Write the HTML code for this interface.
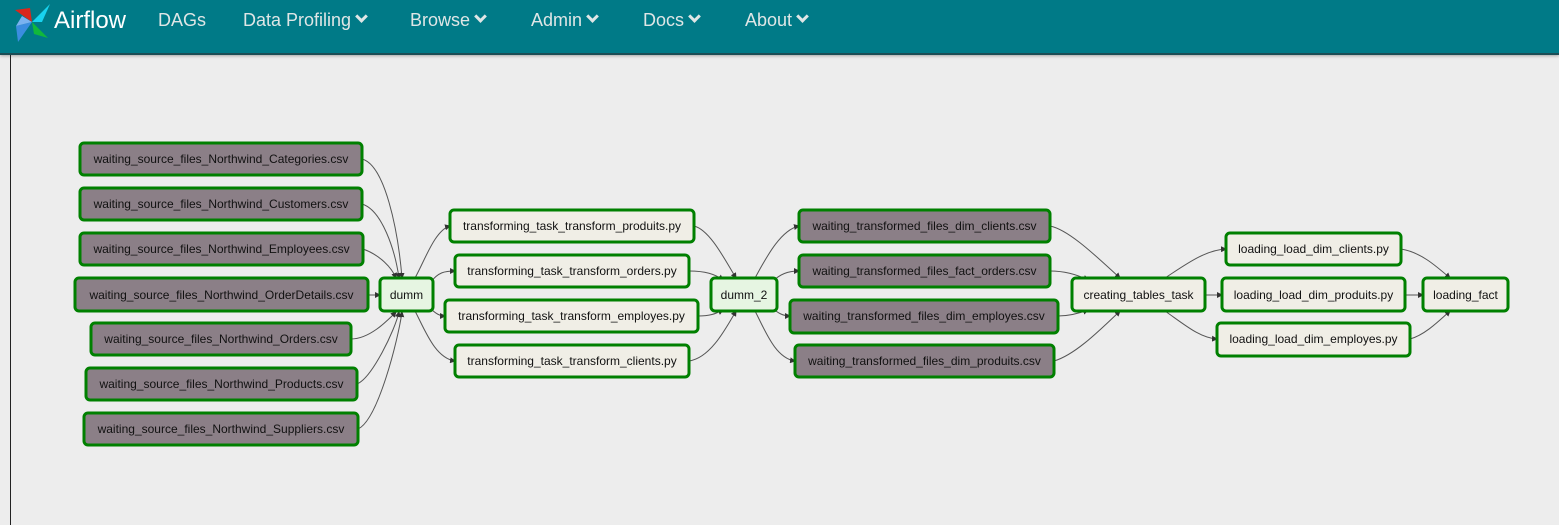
<!DOCTYPE html>
<html><head><meta charset="utf-8"><style>
html,body{margin:0;padding:0;width:1559px;height:525px;overflow:hidden;background:#ededed;font-family:"Liberation Sans",Arial,sans-serif}
.nav{position:absolute;left:0;top:0;width:1559px;height:53px;background:#007a87;border-bottom:2px solid #1c4d55;box-shadow:0 1px 3px rgba(0,0,0,.3)}
.nav span{position:absolute;top:10px;color:#dfe6e6;font-size:18px;white-space:pre}
.brand{color:#fff!important;font-size:24px!important;top:7px!important}
.c{display:inline-block;width:6px;height:6px;border-right:3px solid #dfe6e6;border-bottom:3px solid #dfe6e6;transform:rotate(45deg);margin-left:6px;position:relative;top:-5px}
.vl{position:absolute;left:10px;top:55px;width:1px;height:470px;background:#222}
</style></head><body>
<div class="nav">
<svg style="position:absolute;left:12px;top:2px" width="40" height="42" viewBox="0 0 40 42">
<polygon points="3,8 18,6 20,20" fill="#d9271c"/>
<polygon points="38,2 30,20 20,20" fill="#18d3f0"/>
<polygon points="20,20 36,36 22,32" fill="#11b83c"/>
<polygon points="20,20 6,40 4,24" fill="#3b8de0"/>
<polygon points="20,20 10,14 4,24" fill="#7ab2f0"/>
</svg>
<span class="brand" style="left:54px">Airflow</span>
<span style="left:158px">DAGs</span>
<span style="left:243px">Data Profiling<i class="c"></i></span>
<span style="left:410px">Browse<i class="c"></i></span>
<span style="left:531px">Admin<i class="c"></i></span>
<span style="left:643px">Docs<i class="c"></i></span>
<span style="left:745px">About<i class="c"></i></span>
</div>
<div class="vl"></div>
<svg style="position:absolute;left:0;top:0" width="1559" height="525" font-family="Liberation Sans, Arial, sans-serif" font-size="12">
<defs><marker id="a" markerWidth="6" markerHeight="6" refX="5" refY="3" orient="auto" markerUnits="userSpaceOnUse"><path d="M0,0 L6,3 L0,6z" fill="#333"/></marker></defs>
<g fill="none" stroke="#555" stroke-width="1" marker-end="url(#a)">
<path d="M362,159 C385,165 398,230 402,278"/>
<path d="M362,204 C382,210 395,250 399,278"/>
<path d="M363,249 C380,255 392,268 396,278"/>
<path d="M368,295 L380,295"/>
<path d="M351,339 C370,339 388,320 396,312"/>
<path d="M357,384 C372,378 395,330 399,312"/>
<path d="M358,429 C378,420 398,340 402,312"/>
<path d="M415,278 C425,260 435,230 450,226"/>
<path d="M430,283 C438,272 445,271 455,271"/>
<path d="M430,308 C436,314 440,316 445,316"/>
<path d="M415,311 C425,330 435,358 455,361"/>
<path d="M694,226 C710,230 725,260 736,278"/>
<path d="M689,271 C705,271 715,274 723,280"/>
<path d="M698,316 C710,316 715,314 723,310"/>
<path d="M689,361 C710,358 725,330 736,311"/>
<path d="M755,278 C765,260 780,230 799,226"/>
<path d="M772,282 C780,274 788,271 799,271"/>
<path d="M772,308 C778,313 783,316 790,316"/>
<path d="M755,311 C765,330 775,358 795,361"/>
<path d="M1050,226 C1070,230 1100,260 1120,278"/>
<path d="M1050,271 C1065,271 1078,275 1088,280"/>
<path d="M1058,316 C1070,316 1080,313 1088,310"/>
<path d="M1054,361 C1075,355 1100,330 1120,311"/>
<path d="M1165,278 C1185,265 1205,250 1226,249"/>
<path d="M1205,295 L1222,295"/>
<path d="M1165,311 C1185,325 1200,338 1217,339"/>
<path d="M1401,249 C1420,252 1435,265 1450,278"/>
<path d="M1405,295 L1423,295"/>
<path d="M1410,339 C1425,335 1440,320 1450,311"/>
</g>
<g stroke="#008000" stroke-width="3">
<g fill="#8b7f87">
<rect x="80" y="143" width="282" height="32" rx="4"/>
<rect x="80" y="188" width="282" height="32" rx="4"/>
<rect x="80" y="233" width="283" height="32" rx="4"/>
<rect x="75" y="278" width="293" height="33" rx="4"/>
<rect x="91" y="323" width="260" height="32" rx="4"/>
<rect x="86" y="368" width="271" height="32" rx="4"/>
<rect x="84" y="413" width="274" height="32" rx="4"/>
<rect x="799" y="210" width="251" height="32" rx="4"/>
<rect x="799" y="255" width="251" height="32" rx="4"/>
<rect x="790" y="300" width="268" height="33" rx="4"/>
<rect x="795" y="345" width="259" height="32" rx="4"/>
</g>
<g fill="#e6f5e2">
<rect x="380" y="278" width="53" height="33" rx="4"/>
<rect x="711" y="278" width="66" height="33" rx="4"/>
</g>
<g fill="#f0eee6">
<rect x="450" y="210" width="244" height="32" rx="4"/>
<rect x="455" y="255" width="234" height="32" rx="4"/>
<rect x="445" y="300" width="253" height="32" rx="4"/>
<rect x="455" y="345" width="234" height="32" rx="4"/>
<rect x="1072" y="278" width="133" height="33" rx="4"/>
<rect x="1226" y="233" width="175" height="32" rx="4"/>
<rect x="1222" y="278" width="183" height="33" rx="4"/>
<rect x="1217" y="323" width="193" height="33" rx="4"/>
<rect x="1423" y="278" width="85" height="33" rx="4"/>
</g>
</g>
<g fill="#111" text-anchor="middle" dominant-baseline="central">
<text x="221" y="159">waiting_source_files_Northwind_Categories.csv</text>
<text x="221" y="204">waiting_source_files_Northwind_Customers.csv</text>
<text x="221.5" y="249">waiting_source_files_Northwind_Employees.csv</text>
<text x="221.5" y="295">waiting_source_files_Northwind_OrderDetails.csv</text>
<text x="221" y="339">waiting_source_files_Northwind_Orders.csv</text>
<text x="221.5" y="384">waiting_source_files_Northwind_Products.csv</text>
<text x="221" y="429">waiting_source_files_Northwind_Suppliers.csv</text>
<text x="406.5" y="295">dumm</text>
<text x="572" y="226">transforming_task_transform_produits.py</text>
<text x="572" y="271">transforming_task_transform_orders.py</text>
<text x="571.5" y="316">transforming_task_transform_employes.py</text>
<text x="572" y="361">transforming_task_transform_clients.py</text>
<text x="744" y="295">dumm_2</text>
<text x="924.5" y="226">waiting_transformed_files_dim_clients.csv</text>
<text x="924.5" y="271">waiting_transformed_files_fact_orders.csv</text>
<text x="924" y="316">waiting_transformed_files_dim_employes.csv</text>
<text x="924.5" y="361">waiting_transformed_files_dim_produits.csv</text>
<text x="1138.5" y="295">creating_tables_task</text>
<text x="1313.5" y="249">loading_load_dim_clients.py</text>
<text x="1313.5" y="295">loading_load_dim_produits.py</text>
<text x="1313.5" y="339">loading_load_dim_employes.py</text>
<text x="1465.5" y="295">loading_fact</text>
</g>
</svg>
</body></html>
